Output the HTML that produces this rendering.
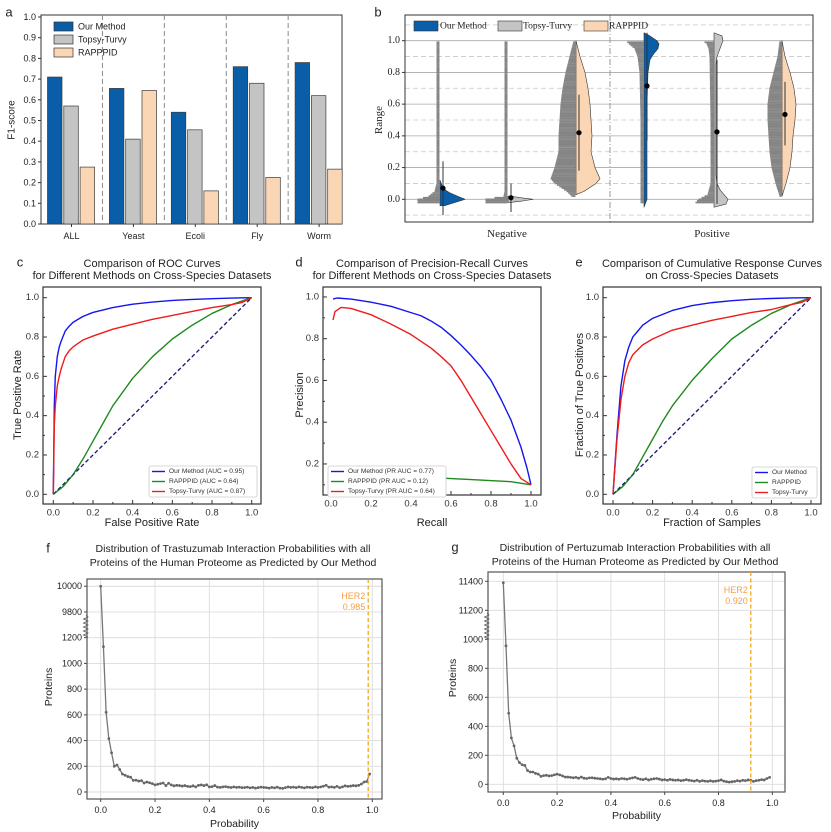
<!DOCTYPE html>
<html><head><meta charset="utf-8">
<style>
html,body{margin:0;padding:0;background:#fff;}
svg{display:block;font-family:"Liberation Sans",Arial,sans-serif;}
.serif{font-family:"Liberation Serif","Times New Roman",serif;}
</style></head>
<body>
<svg id="fig" width="831" height="832" viewBox="0 0 831 832" xmlns="http://www.w3.org/2000/svg"></svg>
<script>
// ---------- Panel a data ----------
const aCategories = ["ALL","Yeast","Ecoli","Fly","Worm"];
const aSeriesNames = ["Our Method","Topsy-Turvy","RAPPPID"];
const aOurMethod = [0.71,0.655,0.54,0.76,0.78];
const aTopsy = [0.57,0.41,0.455,0.68,0.62];
const aRapppid = [0.275,0.645,0.16,0.225,0.265];
const aTicks = [0.0,0.1,0.2,0.3,0.4,0.5,0.6,0.7,0.8,0.9,1.0];

// ---------- Panel b data ----------
const bGroups = ["Negative","Positive"];
const bMeans = [0.07,0.01,0.42,0.715,0.425,0.535];
const bErrLow = [-0.1,-0.08,0.18,0.37,-0.03,0.34];
const bErrHigh = [0.24,0.1,0.66,1.05,0.88,0.74];
const bViolinY = [
 [-0.04,-0.02,0,0.02,0.04,0.06,0.08,0.1,0.12],
 [-0.02,-0.01,0,0.01,0.02],
 [0.03,0.05,0.1,0.13,0.2,0.3,0.4,0.5,0.6,0.7,0.8,0.9,0.95,1.0],
 [-0.05,0,0.2,0.4,0.6,0.8,0.88,0.92,0.95,0.98,1.0,1.03,1.05],
 [-0.05,-0.03,0,0.03,0.06,0.1,0.15,0.3,0.5,0.7,0.85,0.9,0.95,1.0,1.03,1.05],
 [0.02,0.1,0.2,0.3,0.4,0.5,0.6,0.7,0.8,0.9,1.0]];
const bViolinDensity = [
 [0.2,0.6,1.0,0.7,0.4,0.2,0.1,0.05,0],
 [0.1,0.6,1.0,0.5,0.1],
 [0,0.32,0.8,0.96,0.76,0.6,0.64,0.6,0.56,0.48,0.36,0.16,0.08,0],
 [0,0.12,0.12,0.12,0.12,0.16,0.24,0.4,0.56,0.6,0.52,0.24,0],
 [0,0.48,0.56,0.4,0.24,0.12,0.08,0.08,0.08,0.08,0.08,0.12,0.24,0.36,0.32,0],
 [0,0.16,0.32,0.4,0.44,0.52,0.56,0.48,0.32,0.12,0]];
const bDotY = [
 [-0.02,0,0.02,0.05,0.1,1.0],
 [-0.02,0,0.02,0.05,1.0],
 [0.02,0.05,0.1,0.13,0.2,0.3,0.4,0.5,0.6,0.7,0.8,0.9,0.95,1.0],
 [-0.02,0,0.1,0.5,0.8,0.9,0.95,0.97,1.0],
 [-0.02,0,0.03,0.1,0.5,0.9,0.95,0.98,1.0],
 [0.02,0.1,0.2,0.3,0.4,0.5,0.6,0.7,0.8,0.9,1.0]];
const bDotCount = [
 [0.84,0.84,0.4,0.16,0.08,0.08],
 [0.84,0.84,0.12,0.08,0.08],
 [0.12,0.32,0.8,0.96,0.8,0.64,0.64,0.6,0.56,0.48,0.36,0.2,0.12,0.04],
 [0.08,0.08,0.08,0.08,0.12,0.2,0.32,0.48,0.68],
 [0.68,0.56,0.2,0.08,0.08,0.12,0.16,0.24,0.4],
 [0.04,0.2,0.36,0.44,0.48,0.52,0.52,0.44,0.28,0.12,0.04]];
const bTicks = [0.0,0.2,0.4,0.6,0.8,1.0];

// ---------- Panel c (ROC) ----------
const rocOurX = [0,0.005,0.01,0.02,0.03,0.04,0.06,0.08,0.1,0.15,0.2,0.3,0.4,0.5,0.6,0.7,0.8,0.9,1];
const rocOurY = [0,0.45,0.6,0.7,0.75,0.78,0.83,0.855,0.875,0.905,0.925,0.95,0.967,0.978,0.986,0.991,0.995,0.998,1];
const rocTopsyX = [0,0.005,0.01,0.02,0.03,0.04,0.06,0.08,0.1,0.15,0.2,0.3,0.4,0.5,0.6,0.7,0.8,0.9,0.95,1];
const rocTopsyY = [0,0.35,0.45,0.55,0.6,0.64,0.7,0.73,0.75,0.785,0.805,0.84,0.865,0.89,0.91,0.93,0.95,0.965,0.975,1];
const rocRapX = [0,0.05,0.1,0.15,0.2,0.25,0.3,0.4,0.5,0.6,0.7,0.8,0.9,1];
const rocRapY = [0,0.04,0.1,0.18,0.27,0.36,0.45,0.59,0.7,0.79,0.86,0.92,0.965,1];

// ---------- Panel d (PR) ----------
const prOurX = [0.01,0.03,0.1,0.2,0.3,0.4,0.45,0.5,0.55,0.6,0.65,0.7,0.75,0.8,0.85,0.9,0.95,0.98,1];
const prOurY = [0.99,0.995,0.99,0.975,0.955,0.925,0.91,0.885,0.855,0.815,0.77,0.72,0.665,0.6,0.51,0.41,0.28,0.18,0.1];
const prTopsyX = [0.01,0.02,0.05,0.1,0.2,0.3,0.4,0.5,0.55,0.6,0.65,0.7,0.75,0.8,0.85,0.9,0.95,1];
const prTopsyY = [0.89,0.93,0.95,0.945,0.915,0.87,0.82,0.755,0.715,0.67,0.6,0.52,0.44,0.36,0.28,0.2,0.13,0.1];
const prRapX = [0.02,0.05,0.1,0.3,0.5,0.7,0.9,1];
const prRapY = [0.09,0.13,0.145,0.14,0.135,0.125,0.115,0.1];

// ---------- Panel e (CRC) ----------
const crcOurX = [0,0.02,0.04,0.06,0.08,0.1,0.15,0.2,0.3,0.4,0.5,0.6,0.7,0.8,0.9,1];
const crcOurY = [0,0.3,0.55,0.68,0.75,0.8,0.86,0.895,0.935,0.96,0.975,0.985,0.992,0.996,0.999,1];
const crcTopsyX = [0,0.02,0.04,0.06,0.08,0.1,0.15,0.2,0.3,0.4,0.5,0.6,0.7,0.8,0.9,0.95,1];
const crcTopsyY = [0,0.28,0.48,0.6,0.67,0.71,0.76,0.79,0.835,0.86,0.885,0.905,0.925,0.94,0.965,0.975,1];
const crcRapX = [0,0.05,0.1,0.15,0.2,0.25,0.3,0.4,0.5,0.6,0.7,0.8,0.9,1];
const crcRapY = [0,0.04,0.1,0.19,0.28,0.37,0.45,0.58,0.69,0.79,0.86,0.92,0.965,1];
const curveTicks = [0.0,0.2,0.4,0.6,0.8,1.0];

// ---------- Panel f ----------
const fCounts = [10000,1130,620,415,305,200,210,175,140,130,
 120,115,90,92,85,88,70,78,72,65,
 55,60,65,70,50,68,55,48,52,50,
 46,50,44,42,48,40,52,55,50,56,
 40,42,50,38,36,40,42,38,35,40,
 36,38,34,35,38,32,36,30,34,38,
 36,34,30,36,32,38,30,28,34,40,
 36,38,34,40,36,32,38,36,34,40,
 36,40,45,52,38,40,36,44,34,40,
 48,44,46,50,48,52,62,78,82,140];
const fYTicks = [0,200,400,600,800,1000,1200,9800,10000];
const fHer2 = 0.985;
// ---------- Panel g ----------
const gCounts = [11390,955,490,320,265,180,150,135,130,95,
 85,85,75,70,55,60,62,58,60,65,
 70,65,58,50,50,48,45,48,42,50,
 42,40,44,45,42,40,38,35,38,48,
 40,36,38,35,40,38,35,40,44,48,
 40,35,32,38,30,35,38,40,36,30,
 32,28,34,30,28,30,25,28,32,28,
 25,22,28,20,25,22,20,24,20,22,
 25,30,22,18,15,18,20,25,22,28,
 25,30,28,20,25,28,32,30,40,48];
const gYTicks = [0,200,400,600,800,1000,11200,11400];
const gHer2 = 0.92;
const probTicks = [0.0,0.2,0.4,0.6,0.8,1.0];

// ---------- helpers ----------
const NS = "http://www.w3.org/2000/svg";
const svg = document.getElementById("fig");
function mk(tag, attrs, name, parent){
  const el = document.createElementNS(NS, tag);
  for (const k in attrs) el.setAttribute(k, attrs[k]);
  
  
  (parent || svg).appendChild(el);
  return el;
}
function txt(x,y,s,size,name,opts){
  opts = opts || {};
  const t = mk("text", {x:x,y:y,"font-size":size,fill:opts.fill||"#222","text-anchor":opts.anchor||"middle","dominant-baseline":"central"}, name, opts.parent);
  if (opts.cls) t.setAttribute("class", opts.cls);
  if (opts.rot) t.setAttribute("transform","rotate(-90 "+x+" "+y+")");
  t.textContent = s;
  return t;
}
function group(name){ return mk("g",{},name); }
function path(xs, ys, fx, fy){
  let d="";
  for (let i=0;i<xs.length;i++) d += (i?"L":"M")+fx(xs[i]).toFixed(2)+","+fy(ys[i]).toFixed(2);
  return d;
}

// ================= Panel a =================
(function(){
  const g = group("panel-a");
  const L=41,R=342,T=17,B=224;
  const y = v => B - (B-T)*v;
  const cx = i => 71.5 + i*61.9;
  txt(9,12,"a",13,"panel-a-label",{parent:g});
  mk("rect",{x:L,y:T-2,width:R-L,height:B-T+2,fill:"none",stroke:"#333","stroke-width":1},"panel-a-frame",g);
  aTicks.forEach((t,i)=>{
    mk("line",{x1:L-3,x2:L,y1:y(t),y2:y(t),stroke:"#333"},"y-tick",g);
    txt(L-5,y(t),t.toFixed(1),9,"y-tick-label",{anchor:"end",parent:g});
  });
  txt(12,120,"F1-score",10,"y-axis-title",{rot:true,parent:g});
  for (let i=1;i<5;i++){
    const sx = (cx(i-1)+cx(i))/2;
    mk("line",{x1:sx,x2:sx,y1:T-2,y2:B,stroke:"#888","stroke-dasharray":"5,3","stroke-width":1},"group-separator",g);
  }
  const series=[aOurMethod,aTopsy,aRapppid];
  const cols=["#0a5ea8","#c4c4c4","#fad6b4"];
  aCategories.forEach((c,i)=>{
    series.forEach((s,j)=>{
      const bx = cx(i) - 24 + j*16.3;
      mk("rect",{x:bx,y:y(s[i]),width:14.5,height:B-y(s[i]),fill:cols[j],stroke:"#3a3a3a","stroke-width":0.7},"bar-"+c.toLowerCase()+"-"+j,g);
    });
    mk("line",{x1:cx(i),x2:cx(i),y1:B,y2:B+3,stroke:"#333"},"x-tick",g);
    txt(cx(i),236,c,9,"x-tick-label",{parent:g});
  });
  aSeriesNames.forEach((n,j)=>{
    mk("rect",{x:54,y:22+j*13,width:19,height:9,fill:cols[j],stroke:"#333","stroke-width":0.7},"legend-swatch",g);
    txt(78,26.5+j*13,n,9,"legend-entry",{anchor:"start",parent:g});
  });
})();

// ================= Panel b =================
(function(){
  const g = group("panel-b");
  const L=405,R=813,T=15,B=222;
  const y = v => 199.3 - 158.6*v;
  txt(378,12,"b",13,"panel-b-label",{parent:g});
  for (let k=-1;k<=11;k++){
    const v=k/10;
    if (k%2!==0) mk("line",{x1:L,x2:R,y1:y(v),y2:y(v),stroke:"#c8c8c8","stroke-dasharray":"5,3","stroke-width":0.8},"grid-minor",g);
  }
  bTicks.forEach(t=>{
    mk("line",{x1:L,x2:R,y1:y(t),y2:y(t),stroke:"#a8a8a8","stroke-width":0.8},"grid-major",g);
    mk("line",{x1:L-3,x2:L,y1:y(t),y2:y(t),stroke:"#333"},"y-tick",g);
    txt(L-5,y(t),t.toFixed(1),10,"y-tick-label",{anchor:"end",cls:"serif",parent:g});
  });
  mk("line",{x1:610,x2:610,y1:T,y2:B,stroke:"#999","stroke-dasharray":"6,2,1,2","stroke-width":1},"group-separator",g);
  txt(379,120,"Range",11,"y-axis-title",{rot:true,cls:"serif",parent:g});
  txt(507,234,bGroups[0],11,"x-label-negative",{cls:"serif",parent:g});
  txt(712,234,bGroups[1],11,"x-label-positive",{cls:"serif",parent:g});
  const centers=[440,508,576,644,714,782];
  const vcol=["#0a5ea8","#c4c4c4","#fad6b4","#0a5ea8","#c4c4c4","#fad6b4"];
  const lerp=(ys,ws,v)=>{
    if (v<ys[0]||v>ys[ys.length-1]) return 0;
    for(let i=0;i<ys.length-1;i++){ if(v>=ys[i]&&v<=ys[i+1]){const t=(v-ys[i])/(ys[i+1]-ys[i]||1);return ws[i]+(ws[i+1]-ws[i])*t;} }
    return ws[ws.length-1];
  };
  for (let i=0;i<6;i++){
    const c=centers[i];
    const ys=bDotY[i], ws=bDotCount[i];
    for (let v=ys[0]; v<=ys[ys.length-1]+1e-9; v+=0.01){
      const w=lerp(ys,ws,v)*25;
      if (w<=0.3) continue;
      mk("line",{x1:c-w-1.5,x2:c-0.5,y1:y(v),y2:y(v),stroke:"#858585","stroke-width":1.7},"dot-row",g);
    }
    const vy=bViolinY[i], vd=bViolinDensity[i];
    let d="M"+c+","+y(vy[0]);
    for(let k=0;k<vy.length;k++) d+="L"+(c+vd[k]*25).toFixed(2)+","+y(vy[k]).toFixed(2);
    d+="L"+c+","+y(vy[vy.length-1])+"Z";
    mk("path",{d:d,fill:vcol[i],stroke:"#333","stroke-width":0.6,"stroke-linejoin":"round"},"violin-"+i,g);
    mk("line",{x1:c+3,x2:c+3,y1:y(bErrLow[i]),y2:y(bErrHigh[i]),stroke:"#333","stroke-width":1},"error-bar",g);
    mk("circle",{cx:c+3,cy:y(bMeans[i]),r:2.6,fill:"#000"},"mean-point",g);
  }
  mk("rect",{x:L,y:T,width:R-L,height:B-T,fill:"none",stroke:"#333","stroke-width":1},"panel-b-frame",g);
  const leg=[["Our Method",414,440,"#0a5ea8"],["Topsy-Turvy",498,523,"#c4c4c4"],["RAPPPID",584,609,"#fad6b4"]];
  leg.forEach(l=>{
    mk("rect",{x:l[1],y:21,width:24,height:10,fill:l[3],stroke:"#333","stroke-width":0.6},"legend-swatch",g);
    txt(l[2],26.5,l[0],9.5,"legend-entry",{anchor:"start",cls:"serif",parent:g});
  });
})();

// ================= Curve panels c,d,e =================
function curvePanel(o){
  const g = group(o.name);
  const x = v => o.x0 + o.xs*v;
  const y = v => o.y0 - o.ys*v;
  txt(o.labX,262,o.letter,13,o.name+"-label",{parent:g});
  txt(o.titleX,264,o.title1,11,"chart-title",{parent:g});
  txt(o.titleX,276,o.title2,11,"chart-title",{parent:g});
  mk("rect",{x:o.L,y:o.T,width:o.R-o.L,height:o.B-o.T,fill:"#fff",stroke:"#333","stroke-width":1.2},"plot-frame",g);
  for (let k=0;k<=10;k++){
    const v=k/10, major=k%2===0, len=major?4:2;
    mk("line",{x1:x(v),x2:x(v),y1:o.B,y2:o.B-len,stroke:"#333"},"x-tick",g);
    if (y(v)>=o.T && y(v)<=o.B) mk("line",{x1:o.L,x2:o.L+len,y1:y(v),y2:y(v),stroke:"#333"},"y-tick",g);
  }
  curveTicks.forEach(t=>{
    txt(x(t),o.B+9,t.toFixed(1),9.5,"x-tick-label",{parent:g,fill:"#333"});
    if (y(t)<=o.B+1) txt(o.L-4,y(t),t.toFixed(1),9.5,"y-tick-label",{parent:g,anchor:"end",fill:"#333"});
  });
  txt((o.L+o.R)/2,523,o.xTitle,11,"x-axis-title",{parent:g});
  txt(o.yTitleX,395,o.yTitle,11,"y-axis-title",{parent:g,rot:true});
  if (o.diag) mk("path",{d:path([0,1],[0,1],x,y),stroke:"#1c1c78","stroke-width":1.3,"stroke-dasharray":"4,2.5",fill:"none"},"diagonal-reference",g);
  o.series.forEach(s=>{
    mk("path",{d:path(s.xs,s.ys,x,y),stroke:s.col,"stroke-width":1.4,fill:"none","stroke-linejoin":"round"},"line-"+s.id,g);
  });
  if (o.diag) mk("path",{d:path([0,1],[0,1],x,y),stroke:"#1c1c78","stroke-width":1.1,"stroke-dasharray":"4,2.5",fill:"none",opacity:0.6},"diagonal-reference-top",g);
  const lg=o.leg;
  mk("rect",{x:lg.x,y:lg.y,width:lg.w,height:31,rx:2,fill:"#fff",stroke:"#ccc","stroke-width":0.8},"legend-box",g);
  o.series.forEach((s,i)=>{
    const yy=lg.y+5.5+i*10;
    mk("line",{x1:lg.x+3,x2:lg.x+16,y1:yy,y2:yy,stroke:s.col,"stroke-width":1.4},"legend-line",g);
    txt(lg.x+20,yy,s.label,6.6,"legend-entry",{anchor:"start",parent:g,fill:"#333"});
  });
}
curvePanel({name:"panel-c",letter:"c",labX:20,titleX:152,title1:"Comparison of ROC Curves",title2:"for Different Methods on Cross-Species Datasets",
  L:43,R:261,T:287,B:504,x0:53.3,xs:198.4,y0:494.3,ys:196.6,xTitle:"False Positive Rate",yTitle:"True Positive Rate",yTitleX:18,diag:true,
  leg:{x:149,y:466,w:108},
  series:[{id:"our-method",xs:rocOurX,ys:rocOurY,col:"#1515f0",label:"Our Method (AUC = 0.95)"},
          {id:"rapppid",xs:rocRapX,ys:rocRapY,col:"#1f8a1f",label:"RAPPPID (AUC = 0.64)"},
          {id:"topsy-turvy",xs:rocTopsyX,ys:rocTopsyY,col:"#ee1c1c",label:"Topsy-Turvy (AUC = 0.87)"}]});
curvePanel({name:"panel-d",letter:"d",labX:299,titleX:432,title1:"Comparison of Precision-Recall Curves",title2:"for Different Methods on Cross-Species Datasets",
  L:323,R:541,T:287,B:495,x0:331,xs:200,y0:505.7,ys:208.75,xTitle:"Recall",yTitle:"Precision",yTitleX:300,diag:false,
  leg:{x:328,y:466,w:118},
  series:[{id:"our-method",xs:prOurX,ys:prOurY,col:"#1515f0",label:"Our Method (PR AUC = 0.77)"},
          {id:"rapppid",xs:prRapX,ys:prRapY,col:"#1f8a1f",label:"RAPPPID (PR AUC = 0.12)"},
          {id:"topsy-turvy",xs:prTopsyX,ys:prTopsyY,col:"#ee1c1c",label:"Topsy-Turvy (PR AUC = 0.64)"}]});
curvePanel({name:"panel-e",letter:"e",labX:579,titleX:712,title1:"Comparison of Cumulative Response Curves",title2:"on Cross-Species Datasets",
  L:603,R:821,T:287,B:504,x0:613,xs:198,y0:494.3,ys:196.6,xTitle:"Fraction of Samples",yTitle:"Fraction of True Positives",yTitleX:580,diag:true,
  leg:{x:752,y:467,w:65},
  series:[{id:"our-method",xs:crcOurX,ys:crcOurY,col:"#1515f0",label:"Our Method"},
          {id:"rapppid",xs:crcRapX,ys:crcRapY,col:"#1f8a1f",label:"RAPPPID"},
          {id:"topsy-turvy",xs:crcTopsyX,ys:crcTopsyY,col:"#ee1c1c",label:"Topsy-Turvy"}]});

// ================= Distribution panels f,g =================
function distPanel(o){
  const g = group(o.name);
  const x = v => o.x0 + o.xs*v;
  const y = v => o.y0 - o.ys*(v>=o.breakAt ? v-o.breakShift : v);
  txt(o.labX,o.t1-1,o.letter,13,o.name+"-label",{parent:g});
  txt(o.titleX,o.t1,o.title1,10.5,"chart-title",{parent:g});
  txt(o.titleX,o.t1+14,o.title2,10.5,"chart-title",{parent:g});
  probTicks.forEach(t=>{
    mk("line",{x1:x(t),x2:x(t),y1:o.T,y2:o.B,stroke:"#dcdcdc","stroke-width":0.9},"grid-vertical",g);
    mk("line",{x1:x(t),x2:x(t),y1:o.B,y2:o.B+3,stroke:"#444"},"x-tick",g);
    txt(x(t),o.B+11,t.toFixed(1),9,"x-tick-label",{parent:g});
  });
  o.yTicks.forEach(t=>{
    mk("line",{x1:o.L,x2:o.R,y1:y(t),y2:y(t),stroke:"#dcdcdc","stroke-width":0.9},"grid-horizontal",g);
    mk("line",{x1:o.L-3,x2:o.L,y1:y(t),y2:y(t),stroke:"#444"},"y-tick",g);
    txt(o.L-5,y(t),String(t),9,"y-tick-label",{anchor:"end",parent:g});
  });
  mk("rect",{x:o.L,y:o.T,width:o.R-o.L,height:o.B-o.T,fill:"none",stroke:"#555","stroke-width":1.2},"plot-frame",g);
  let zz="M"+(o.L-1)+","+o.zz[0];
  for (let yy=o.zz[0],k=0; yy<o.zz[1]; yy+=2,k++) zz+="L"+(o.L-1+(k%2?-2.5:2))+","+(yy+2);
  mk("path",{d:zz,fill:"none",stroke:"#555","stroke-width":0.8},"axis-break",g);
  const bins = o.counts.map((c,i)=>i/100);
  mk("path",{d:path(bins,o.counts,x,y),fill:"none",stroke:"#777","stroke-width":1.3},"distribution-line",g);
  o.counts.forEach((c,i)=>{
    mk("circle",{cx:x(bins[i]),cy:y(c),r:1.4,fill:"#666"},"distribution-point",g);
  });
  mk("line",{x1:x(o.her2),x2:x(o.her2),y1:o.T,y2:o.B,stroke:"#f5a623","stroke-width":1.3,"stroke-dasharray":"4,2.5"},"her2-line",g);
  txt(x(o.her2)-3,o.hy,"HER2",9,"her2-label",{anchor:"end",fill:"#f5a04a",parent:g});
  txt(x(o.her2)-3,o.hy+11,o.her2.toFixed(3),9,"her2-value",{anchor:"end",fill:"#f5a04a",parent:g});
  txt((o.L+o.R)/2,o.xtY,"Probability",10.5,"x-axis-title",{parent:g});
  txt(o.ytX,o.ytY,"Proteins",10.5,"y-axis-title",{rot:true,parent:g});
}
distPanel({name:"panel-f",letter:"f",labX:48,titleX:233,t1:549,title1:"Distribution of Trastuzumab Interaction Probabilities with all",
  title2:"Proteins of the Human Proteome as Predicted by Our Method",
  L:87,R:382,T:579,B:799,x0:100.7,xs:271.6,y0:792,ys:0.1286,breakAt:9000,breakShift:8400,
  yTicks:fYTicks,counts:fCounts,her2:fHer2,hy:596,zz:[615,637],xtY:824,ytX:49,ytY:687});
distPanel({name:"panel-g",letter:"g",labX:455,titleX:635,t1:548,title1:"Distribution of Pertuzumab Interaction Probabilities with all",
  title2:"Proteins of the Human Proteome as Predicted by Our Method",
  L:488,R:785,T:572,B:792,x0:503.3,xs:269,y0:784.3,ys:0.145,breakAt:10500,breakShift:10000,
  yTicks:gYTicks,counts:gCounts,her2:gHer2,hy:590,zz:[613,638],xtY:816,ytX:453,ytY:678});
</script>
</body></html>
